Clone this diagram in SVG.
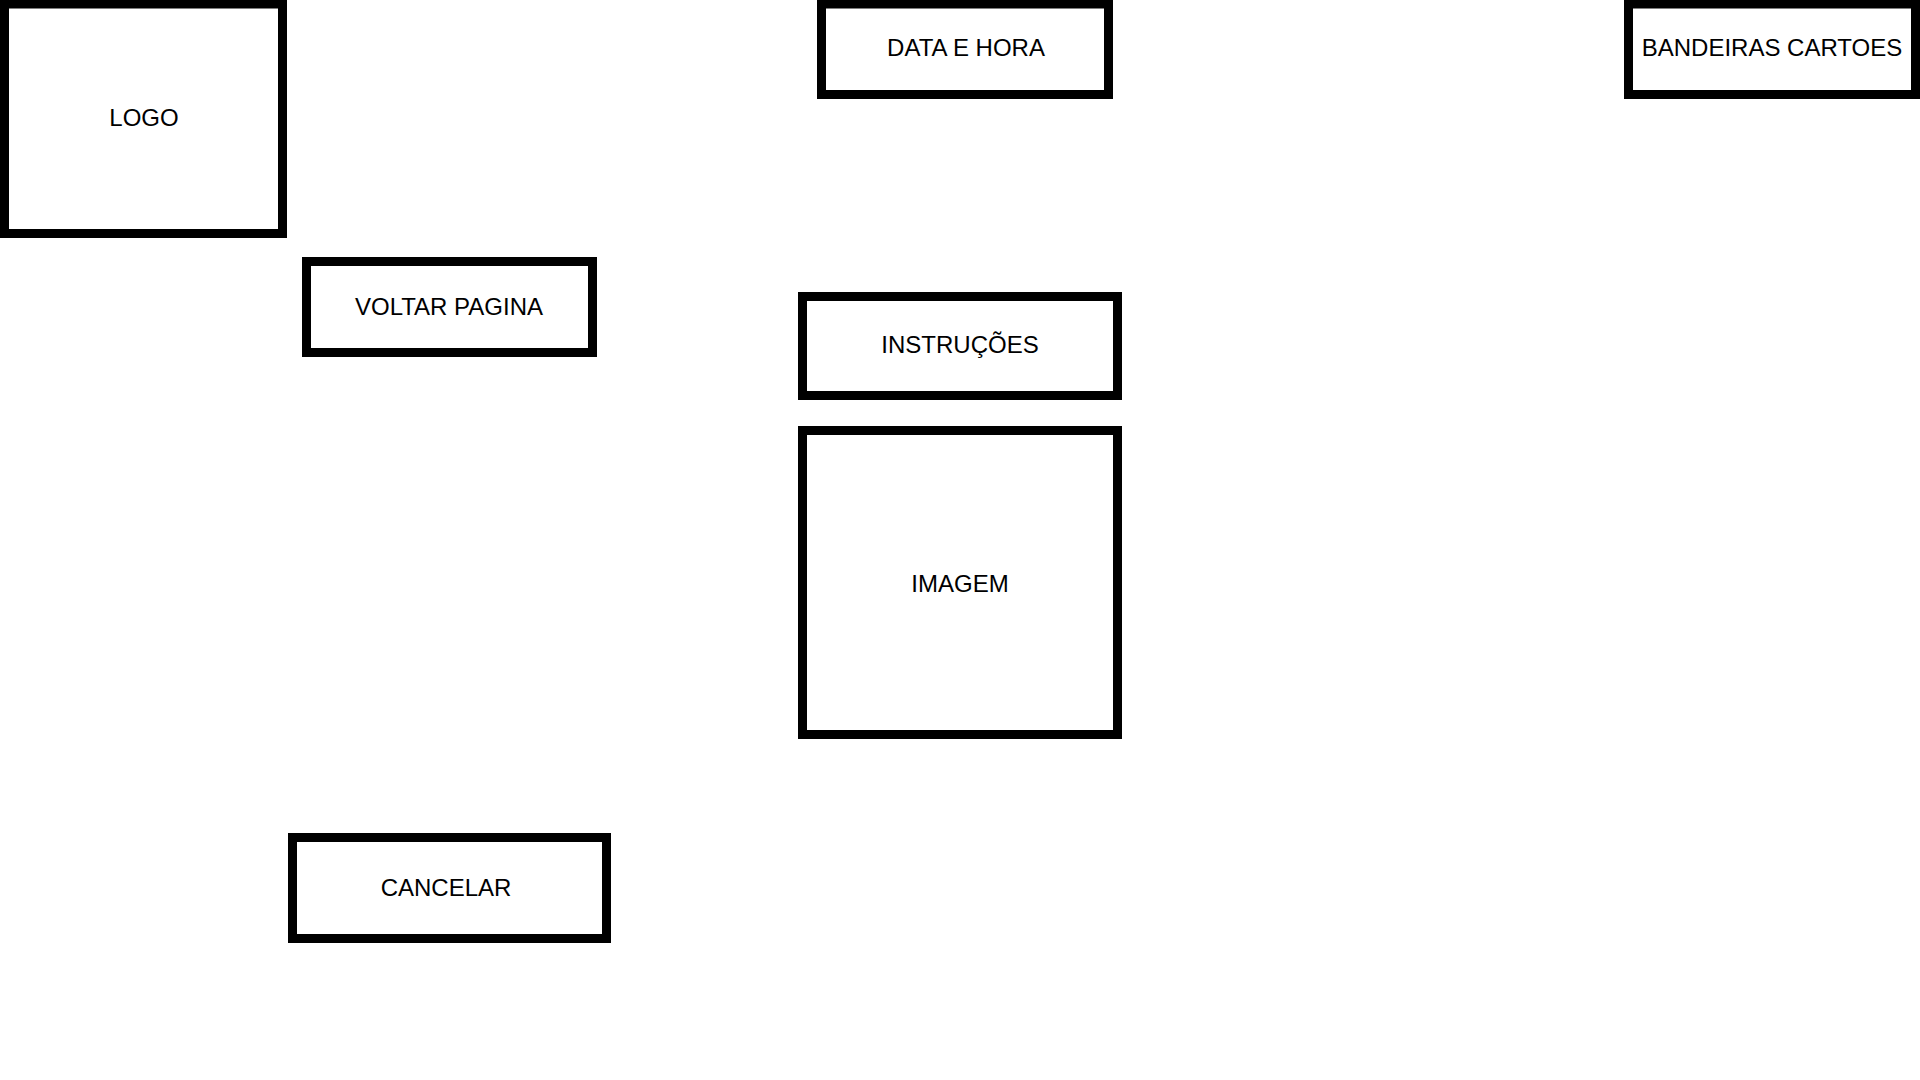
<svg xmlns="http://www.w3.org/2000/svg" width="1920" height="1080" viewBox="0 0 1920 1080">
<style>
.box{fill:#fff;stroke:#000;stroke-width:9}
.lbl{font-family:"Liberation Sans",Arial,sans-serif;font-size:24px;fill:#000;text-anchor:middle}
</style>
<rect width="1920" height="1080" fill="#fff"/>
<g id="connectors"></g>
<g id="logo"><rect class="box" x="4.5" y="4" width="278" height="229.5"/><text class="lbl" x="144" y="126">LOGO</text></g>
<g id="data-hora"><rect class="box" x="821.5" y="4" width="287" height="90.5"/><text class="lbl" x="966" y="56">DATA E HORA</text></g>
<g id="bandeiras"><rect class="box" x="1628.5" y="4" width="287" height="90.5"/><text class="lbl" x="1772" y="56">BANDEIRAS CARTOES</text></g>
<g id="voltar"><rect class="box" x="306.5" y="261.5" width="286" height="91"/><text class="lbl" x="449" y="315">VOLTAR PAGINA</text></g>
<g id="instrucoes"><rect class="box" x="802.5" y="296.5" width="315" height="99"/><text class="lbl" x="960" y="353">INSTRUÇÕES</text></g>
<g id="imagem"><rect class="box" x="802.5" y="430.5" width="315" height="304"/><text class="lbl" x="960" y="592">IMAGEM</text></g>
<g id="cancelar"><rect class="box" x="292.5" y="837.5" width="314" height="101"/><text class="lbl" x="446" y="896">CANCELAR</text></g>
</svg>
